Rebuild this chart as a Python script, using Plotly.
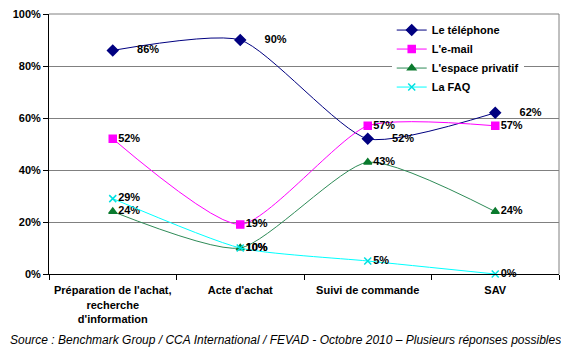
import plotly.graph_objects as go

categories = ["Préparation de l'achat,<br>recherche<br>d'information", "Acte d'achat", "Suivi de commande", "SAV"]
telephone = [86, 90, 52, 62]
email = [52, 19, 57, 57]
espace = [24, 10, 43, 24]
faq = [29, 10, 5, 0]
y_ticks = [0, 20, 40, 60, 80, 100]
y_tick_labels = ["0%", "20%", "40%", "60%", "80%", "100%"]

FONT = "Arial, Liberation Sans, sans-serif"
NB = "\u00a0"

series = [
    ("Le téléphone", telephone, "#000080", "#000080", "diamond", 8, NB * 6),
    ("L'e-mail", email, "#FF00FF", "#FF00FF", "square", 7, ""),
    ("L'espace privatif", espace, "#2E8B57", "#0B7A2E", "triangle-up", 7, ""),
    ("La FAQ", faq, "#00FFFF", "#00E0E0", "x-thin", 7, ""),
]

fig = go.Figure()
for name, vals, lc, mc, sym, sz, pad in series:
    fig.add_trace(go.Scatter(
        x=categories, y=vals, name=name,
        mode="lines+markers+text",
        line=dict(color=lc, width=1, shape="spline", smoothing=0.6),
        marker=dict(symbol=sym, size=sz, color=mc, line=dict(color=mc, width=1.5)),
        text=[f"{pad}{v}%" for v in vals],
        textposition="middle right",
        textfont=dict(family=FONT, size=11, color="black", weight="bold"),
        cliponaxis=False,
    ))

fig.update_layout(
    width=561, height=353,
    margin=dict(l=41, r=10, t=6, b=87),
    paper_bgcolor="white", plot_bgcolor="white",
    font=dict(family=FONT, size=11, color="black"),
    showlegend=True,
    legend=dict(
        x=0.672, y=0.994, xanchor="left", yanchor="top",
        bgcolor="white", borderwidth=0,
        font=dict(family=FONT, size=11, color="black", weight="bold"),
        itemwidth=30, tracegroupgap=0,
    ),
    xaxis=dict(
        type="category", range=[-0.5, 3.5], automargin=False,
        showline=True, linecolor="black", linewidth=1, mirror=False,
        ticks="outside", ticklen=5, tickcolor="black", tickson="boundaries",
        showgrid=False, zeroline=False, ticklabelstandoff=6,
        tickfont=dict(family=FONT, size=11, color="black", weight="bold"),
    ),
    yaxis=dict(
        range=[0, 100], tickvals=y_ticks, ticktext=y_tick_labels, automargin=False,
        showline=True, linecolor="black", linewidth=1,
        ticks="outside", ticklen=5, tickcolor="black",
        showgrid=True, gridcolor="#808080", gridwidth=1, zeroline=False,
        ticklabeloverflow="allow",
        tickfont=dict(family=FONT, size=11, color="black", weight="bold"),
    ),
)

# right and top border of plot area
fig.add_shape(type="line", xref="paper", yref="paper", x0=1, x1=1, y0=0, y1=1,
              line=dict(color="#808080", width=1))
fig.add_shape(type="line", xref="paper", yref="paper", x0=0, x1=1, y0=1, y1=1,
              line=dict(color="#808080", width=1))

fig.add_annotation(
    text="Source : Benchmark Group / CCA International / FEVAD - Octobre 2010 – Plusieurs réponses possibles",
    xref="paper", yref="paper", x=-0.0804, y=-0.255, xanchor="left", yanchor="middle",
    showarrow=False, font=dict(family=FONT, size=12, color="black", style="italic"),
)

fig.write_html("out.html")
